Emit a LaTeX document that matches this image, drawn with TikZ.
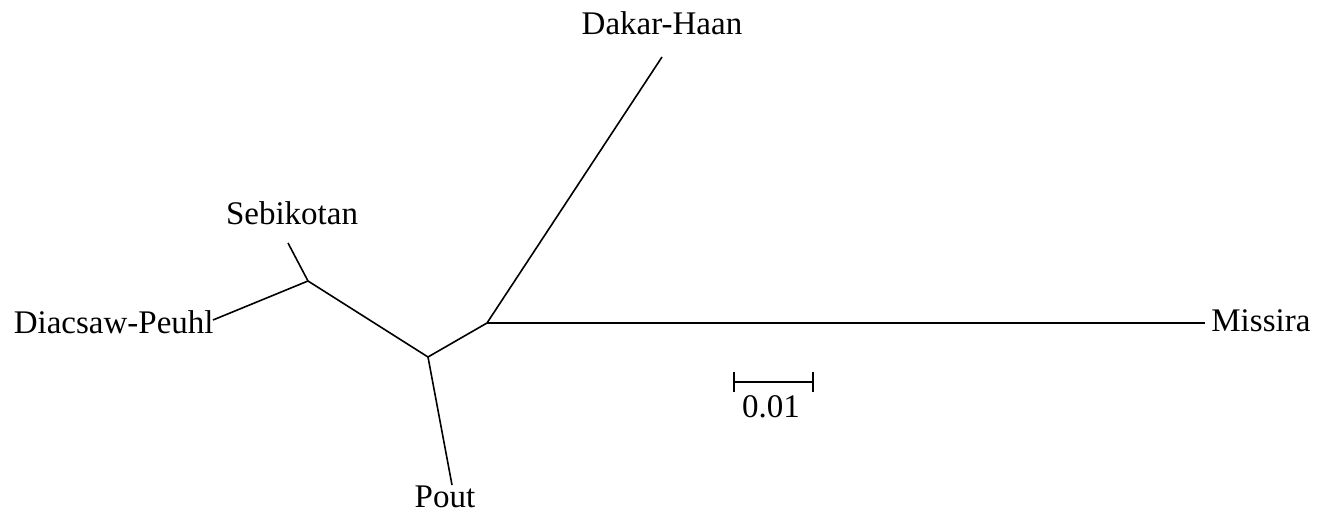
\documentclass[tikz,border=0pt]{standalone}
\usepackage{fontspec}
\setmainfont{Liberation Serif}
\begin{document}
\begin{tikzpicture}[
        x=0.5pt, y=-0.5pt,
        branch/.style ={draw, line width=0.8pt},
        taxon/.style ={inner sep=0pt, font=\fontsize{16.5}{18}\selectfont},
    ]
    \useasboundingbox (0,0) rectangle (1324,513);
    % inner nodes of the tree
    \coordinate (sd) at (308,281);
    \coordinate (mid) at (428,357);
    \coordinate (dm) at (487,323);
    % leaves
    \coordinate (diacTip) at (213,320);
    \coordinate (sebiTip) at (288,243);
    \coordinate (poutTip) at (452,485);
    \coordinate (dakarTip) at (662,57);
    \coordinate (missTip) at (1205,323);

    \node[taxon, anchor=east] (diac) at (214,322) {Diacsaw-Peuhl};
    \node[taxon, anchor=base] (sebi) at (292,225) {Sebikotan};
    \node[taxon, anchor=base] (pout) at (445,508) {Pout};
    \node[taxon, anchor=base] (dakar) at (662,35) {Dakar-Haan};
    \node[taxon, anchor=base west] (miss) at (1211,332) {Missira};

    \path[branch] (diacTip) -- (sd);
    \path[branch] (sebiTip) -- (sd);
    \path[branch] (sd) -- (mid);
    \path[branch] (mid) -- (poutTip);
    \path[branch] (mid) -- (dm);
    \path[branch] (dm) -- (dakarTip);
    \path[branch] (dm) -- (missTip);

    % scale bar
    \coordinate (sbl) at (734,382);
    \coordinate (sbr) at (813,382);
    \path[branch] (sbl) -- (sbr);
    \path[branch] ([yshift=5]sbl) -- ([yshift=-5]sbl);
    \path[branch] ([yshift=5]sbr) -- ([yshift=-5]sbr);
    \node[taxon, anchor=base] (scale) at (771,418) {0.01};
\end{tikzpicture}
\end{document}
